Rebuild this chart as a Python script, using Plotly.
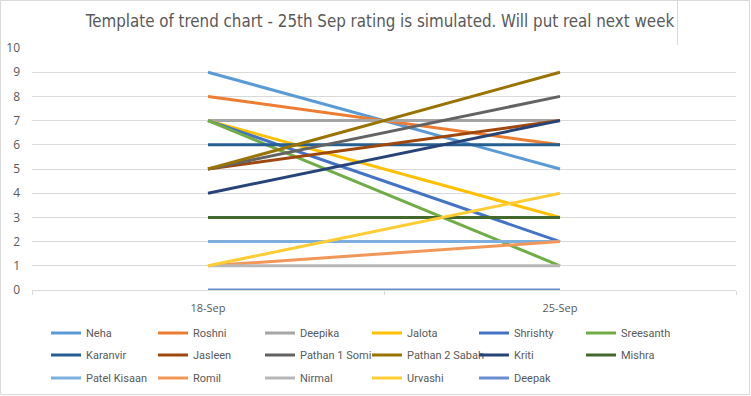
import plotly.graph_objects as go

categories = ["18-Sep", "25-Sep"]
names = ["Neha", "Roshni", "Deepika", "Jalota", "Shrishty", "Sreesanth",
         "Karanvir", "Jasleen", "Pathan 1 Somi", "Pathan 2 Sabah", "Kriti", "Mishra",
         "Patel Kisaan", "Romil", "Nirmal", "Urvashi", "Deepak"]
sep18 = [9, 8, 7, 7, 7, 7, 6, 5, 5, 5, 4, 3, 2, 1, 1, 1, 0]
sep25 = [5, 6, 7, 3, 2, 1, 6, 7, 8, 9, 7, 3, 2, 2, 1, 4, 0]
colors = ["#5B9BD5", "#ED7D31", "#A5A5A5", "#FFC000", "#4472C4", "#70AD47",
          "#255E91", "#9E480E", "#636363", "#997300", "#264478", "#43682B",
          "#7CAFDD", "#F1975A", "#B7B7B7", "#FFCD33", "#698ED0"]
yticks = list(range(0, 11))

W, H = 751, 396
L, R, T, B = 32, 15, 48, 106
pw, ph = W - L - R, H - T - B

def px(x):
    return (x - L) / pw

def py(y):
    return (H - B - y) / ph

legend_ids = ["legend", "legend2", "legend3"]
row_y = [333, 355, 378]
per_row = 6

fig = go.Figure()
for i, (n, a, b, c) in enumerate(zip(names, sep18, sep25, colors)):
    fig.add_trace(go.Scatter(x=categories, y=[a, b], mode="lines", name=n,
                             legend=legend_ids[i // per_row],
                             line=dict(color=c, width=3)))

font = "Open Sans, DejaVu Sans, sans-serif"
lfont = "Liberation Sans Narrow, Roboto, Open Sans, sans-serif"

def legend_cfg(yrow):
    return dict(orientation="h", x=px(46), xanchor="left", y=py(yrow), yanchor="middle",
                entrywidth=62, entrywidthmode="pixels", traceorder="normal",
                font=dict(family=lfont, size=11, color="#595959"),
                bgcolor="rgba(0,0,0,0)", itemwidth=30)

fig.update_layout(
    width=W, height=H,
    margin=dict(l=L, r=R, t=T, b=B, autoexpand=False),
    paper_bgcolor="white", plot_bgcolor="white",
    title=dict(text="Template of trend chart - 25th Sep rating is simulated. Will put real next week",
               font=dict(family="DejaVu Sans Condensed, Roboto Condensed, Roboto, sans-serif", size=16.8, color="#595959"),
               x=380 / W, xref="container", xanchor="center",
               y=1 - 21 / H, yref="container", yanchor="middle", automargin=False),
    xaxis=dict(type="category", range=[-0.5, 1.5], showgrid=False, automargin=False,
               showline=True, linecolor="#d9d9d9", linewidth=1,
               ticks="outside", tickson="boundaries", ticklen=4, tickcolor="#d9d9d9",
               ticklabelstandoff=8,
               tickfont=dict(family=font, size=11, color="#595959"), fixedrange=True),
    yaxis=dict(range=[0, 10], tickvals=yticks, showgrid=True, gridcolor="#d9d9d9",
               gridwidth=1, zeroline=False, showline=False, automargin=False,
               ticklabelstandoff=11, fixedrange=True,
               tickfont=dict(family=font, size=12, color="#595959")),
    legend=legend_cfg(row_y[0]),
    legend2=legend_cfg(row_y[1]),
    legend3=legend_cfg(row_y[2]),
    showlegend=True,
)

fig.add_shape(type="rect", xref="paper", yref="paper",
              x0=px(0.5), x1=px(749.5), y0=py(394.5), y1=py(0.5),
              line=dict(color="#d9d9d9", width=1), layer="below")
fig.add_shape(type="line", xref="paper", yref="paper",
              x0=px(677.5), x1=px(677.5), y0=py(45), y1=py(0),
              line=dict(color="#d9d9d9", width=1))

fig.write_html("out.html", config={"displayModeBar": False},
               post_script="document.body.style.margin='0';document.body.style.padding='0';")
